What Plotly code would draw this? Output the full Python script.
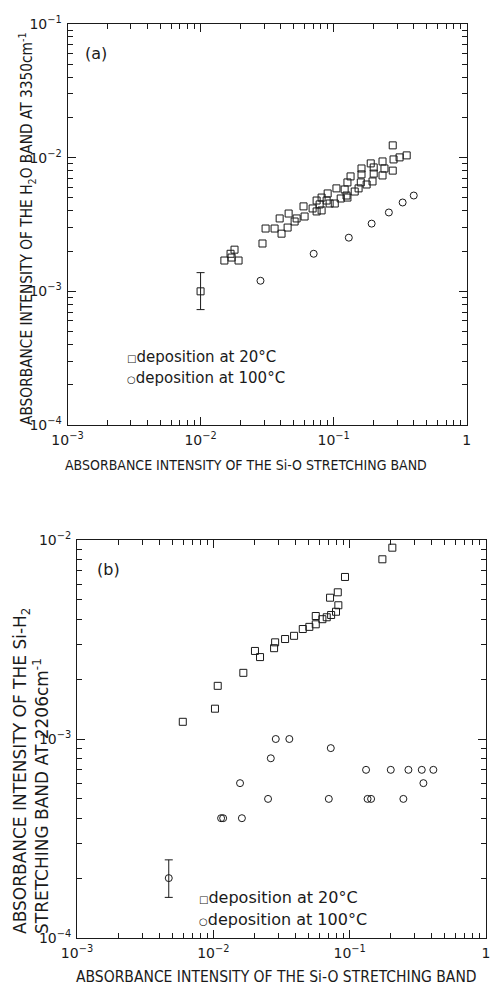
import plotly.graph_objects as go

W, H = 491, 987

# ---------------- data : panel (a) ----------------
a_sq_x = [0.278, 0.282, 0.313, 0.354, 0.233, 0.278, 0.241, 0.233, 0.19, 0.162, 0.162, 0.2, 0.2,
          0.196, 0.16, 0.177, 0.154, 0.144, 0.134, 0.127, 0.121, 0.125, 0.127, 0.105, 0.113,
          0.102, 0.0902, 0.0886, 0.0812, 0.0933, 0.0745, 0.0785, 0.0812, 0.0695, 0.0745,
          0.0594, 0.0605, 0.0527, 0.0459, 0.0509, 0.0451, 0.0393, 0.0406, 0.036, 0.0308,
          0.0292, 0.018, 0.0168, 0.0151, 0.0193, 0.0171]
a_sq_y = [0.01236, 0.0097, 0.01005, 0.0104, 0.00937, 0.0080, 0.0083, 0.00736, 0.00906, 0.0083,
          0.0075, 0.00845, 0.0076, 0.00664, 0.00653, 0.0063, 0.00589, 0.00558, 0.00724, 0.00653,
          0.00578, 0.00521, 0.00503, 0.00589, 0.00495, 0.00454, 0.0054, 0.00478, 0.00503,
          0.00454, 0.00478, 0.00447, 0.00403, 0.00417, 0.00396, 0.00432, 0.00363, 0.00351,
          0.00382, 0.00333, 0.0030, 0.00351, 0.0027, 0.00295, 0.00295, 0.00228, 0.00205,
          0.00191, 0.0017, 0.0017, 0.00179]
a_err_x = [0.01]
a_err_y = [0.001]
a_err_plus = [0.00038]
a_err_minus = [0.00027]

a_ci_x = [0.4, 0.33, 0.26, 0.193, 0.13, 0.0708, 0.0282]
a_ci_y = [0.00521, 0.00462, 0.00389, 0.00321, 0.00252, 0.00191, 0.0012]

# ---------------- data : panel (b) ----------------
b_sq_x = [0.2056, 0.1738, 0.0924, 0.0818, 0.0718, 0.0826, 0.0794, 0.0731, 0.0679, 0.0631,
          0.0564, 0.0564, 0.0506, 0.0453, 0.0391, 0.0336, 0.0284, 0.0279, 0.0202, 0.022,
          0.0166, 0.01077, 0.01028, 0.00597]
b_sq_y = [0.00915, 0.0080, 0.00652, 0.00546, 0.00513, 0.0047, 0.00436, 0.0042, 0.00409, 0.0040,
          0.00415, 0.00377, 0.00366, 0.00357, 0.0033, 0.00318, 0.00306, 0.00286, 0.00277,
          0.00258, 0.00215, 0.00185, 0.00142, 0.00122]

b_ci_x = [0.0287, 0.0361, 0.0727, 0.0264, 0.1319, 0.2002, 0.2697, 0.338, 0.411, 0.3474, 0.0157,
          0.0252, 0.0703, 0.1353, 0.1436, 0.2477, 0.0114, 0.0118, 0.0162]
b_ci_y = [1e-3, 1e-3, 9e-4, 8e-4, 7e-4, 7e-4, 7e-4, 7e-4, 7e-4, 6e-4, 6e-4,
          5e-4, 5e-4, 5e-4, 5e-4, 5e-4, 4e-4, 4e-4, 4e-4]
b_err_x = [0.00471]
b_err_y = [2e-4]
b_err_plus = [0.47e-4]
b_err_minus = [0.4e-4]

x_tickvals = [1e-3, 1e-2, 1e-1, 1]
x_ticktext = ["10<sup>\u22123</sup>", "10<sup>\u22122</sup>", "10<sup>\u22121</sup>", "1"]
ya_tickvals = [1e-4, 1e-3, 1e-2, 1e-1]
ya_ticktext = ["10<sup>\u22124</sup>", "10<sup>\u22123</sup>", "10<sup>\u22122</sup>", "10<sup>\u22121</sup>"]
yb_tickvals = [1e-4, 1e-3, 1e-2]
yb_ticktext = ["10<sup>\u22124</sup>", "10<sup>\u22123</sup>", "10<sup>\u22122</sup>"]

INK = "#1a1a1a"
TICKFONT = dict(family="DejaVu Sans", size=14, color=INK)
COND = "DejaVu Sans Condensed, Liberation Sans Narrow, DejaVu Sans"


def px_x(p):
    return p / W


def px_y(p):
    return 1 - p / H


def minor_vals(lo, hi):
    out = []
    for e in range(lo, hi):
        for d in range(2, 10):
            out.append(d * 10.0 ** e)
    return out


fig = go.Figure()

sq_marker = dict(symbol="square-open", size=7, color=INK, line=dict(width=1, color=INK))
ci_marker = dict(symbol="circle-open", size=7, color=INK, line=dict(width=1, color=INK))
err_style = dict(type="data", symmetric=False, color=INK, thickness=1, width=4)

# panel (a)
fig.add_trace(go.Scatter(x=a_sq_x, y=a_sq_y, mode="markers", marker=sq_marker,
                         xaxis="x", yaxis="y", showlegend=False))
fig.add_trace(go.Scatter(x=a_err_x, y=a_err_y, mode="markers", marker=sq_marker,
                         error_y=dict(array=a_err_plus, arrayminus=a_err_minus, **err_style),
                         xaxis="x", yaxis="y", showlegend=False))
fig.add_trace(go.Scatter(x=a_ci_x, y=a_ci_y, mode="markers", marker=ci_marker,
                         xaxis="x", yaxis="y", showlegend=False))
# panel (b)
fig.add_trace(go.Scatter(x=b_sq_x, y=b_sq_y, mode="markers", marker=sq_marker,
                         xaxis="x2", yaxis="y2", showlegend=False))
fig.add_trace(go.Scatter(x=b_ci_x, y=b_ci_y, mode="markers", marker=ci_marker,
                         xaxis="x2", yaxis="y2", showlegend=False))
fig.add_trace(go.Scatter(x=b_err_x, y=b_err_y, mode="markers", marker=ci_marker,
                         error_y=dict(array=b_err_plus, arrayminus=b_err_minus, **err_style),
                         xaxis="x2", yaxis="y2", showlegend=False))


def axis(domain, rng, tickvals, ticktext, anchor, lo, hi):
    return dict(type="log", domain=domain, range=rng, anchor=anchor, automargin=False,
                tickmode="array", tickvals=tickvals, ticktext=ticktext,
                ticks="inside", ticklen=8, tickwidth=1, tickcolor=INK,
                minor=dict(ticks="inside", ticklen=5, tickwidth=1, tickcolor=INK,
                           tickmode="array", tickvals=minor_vals(lo, hi)),
                showline=True, linecolor=INK, linewidth=1, mirror="ticks",
                showgrid=False, zeroline=False, tickfont=TICKFONT, ticklabelstandoff=2)


xa_dom = [px_x(67.5), px_x(466.7)]
ya_dom = [px_y(425), px_y(24)]
xb_dom = [px_x(77), px_x(486)]
yb_dom = [px_y(938), px_y(540)]

annotations = [
    dict(text="(a)", x=px_x(83), y=px_y(53), xanchor="left", yanchor="middle",
         font=dict(family="DejaVu Sans", size=16, color=INK)),
    dict(text="(b)", x=px_x(95), y=px_y(569), xanchor="left", yanchor="middle",
         font=dict(family="DejaVu Sans", size=16, color=INK)),
    # legends
    dict(text="<span style='font-size:10px'>\u25a1</span>deposition at 20\u00b0C",
         x=px_x(125), y=px_y(357), xanchor="left", yanchor="middle",
         font=dict(family="DejaVu Sans", size=15, color=INK)),
    dict(text="<span style='font-size:10px'>\u25cb</span>deposition at 100\u00b0C",
         x=px_x(125), y=px_y(378), xanchor="left", yanchor="middle",
         font=dict(family="DejaVu Sans", size=15, color=INK)),
    dict(text="<span style='font-size:10px'>\u25a1</span>deposition at 20\u00b0C",
         x=px_x(197), y=px_y(897), xanchor="left", yanchor="middle",
         font=dict(family="DejaVu Sans", size=16, color=INK)),
    dict(text="<span style='font-size:10px'>\u25cb</span>deposition at 100\u00b0C",
         x=px_x(197), y=px_y(919), xanchor="left", yanchor="middle",
         font=dict(family="DejaVu Sans", size=16, color=INK)),
    # axis titles
    dict(text="ABSORBANCE INTENSITY OF THE Si-O STRETCHING BAND",
         x=px_x(246), y=px_y(465), xanchor="center", yanchor="middle",
         font=dict(family=COND, size=14, color=INK)),
    dict(text="ABSORBANCE INTENSITY OF THE Si-O STRETCHING BAND",
         x=px_x(276), y=px_y(977), xanchor="center", yanchor="middle",
         font=dict(family=COND, size=15.5, color=INK)),
    dict(text="ABSORBANCE INTENSITY OF THE H<sub>2</sub>O BAND AT 3350cm<sup>-1</sup>",
         x=px_x(27), y=px_y(229), xanchor="center", yanchor="middle", textangle=-90,
         font=dict(family=COND, size=15.3, color=INK)),
    dict(text="ABSORBANCE INTENSITY OF THE Si-H<sub>2</sub>",
         x=px_x(21), y=px_y(936), xanchor="center", yanchor="bottom", textangle=-90,
         font=dict(family="DejaVu Sans", size=17, color=INK)),
    dict(text="STRETCHING BAND AT 2206cm<sup>-1</sup>",
         x=px_x(41), y=px_y(936), xanchor="center", yanchor="bottom", textangle=-90,
         font=dict(family="DejaVu Sans", size=17, color=INK)),
]
for a in annotations:
    a.update(xref="paper", yref="paper", showarrow=False)

fig.update_layout(
    width=W, height=H,
    margin=dict(l=0, r=0, t=0, b=0, autoexpand=False),
    paper_bgcolor="white", plot_bgcolor="white",
    xaxis=axis(xa_dom, [-3, 0], x_tickvals, x_ticktext, "y", -3, 0),
    yaxis=axis(ya_dom, [-4, -1], ya_tickvals, ya_ticktext, "x", -4, -1),
    xaxis2=axis(xb_dom, [-3, 0], x_tickvals, x_ticktext, "y2", -3, 0),
    yaxis2=axis(yb_dom, [-4, -2], yb_tickvals, yb_ticktext, "x2", -4, -2),
    annotations=annotations,
    showlegend=False,
)

fig.write_html("out.html")
